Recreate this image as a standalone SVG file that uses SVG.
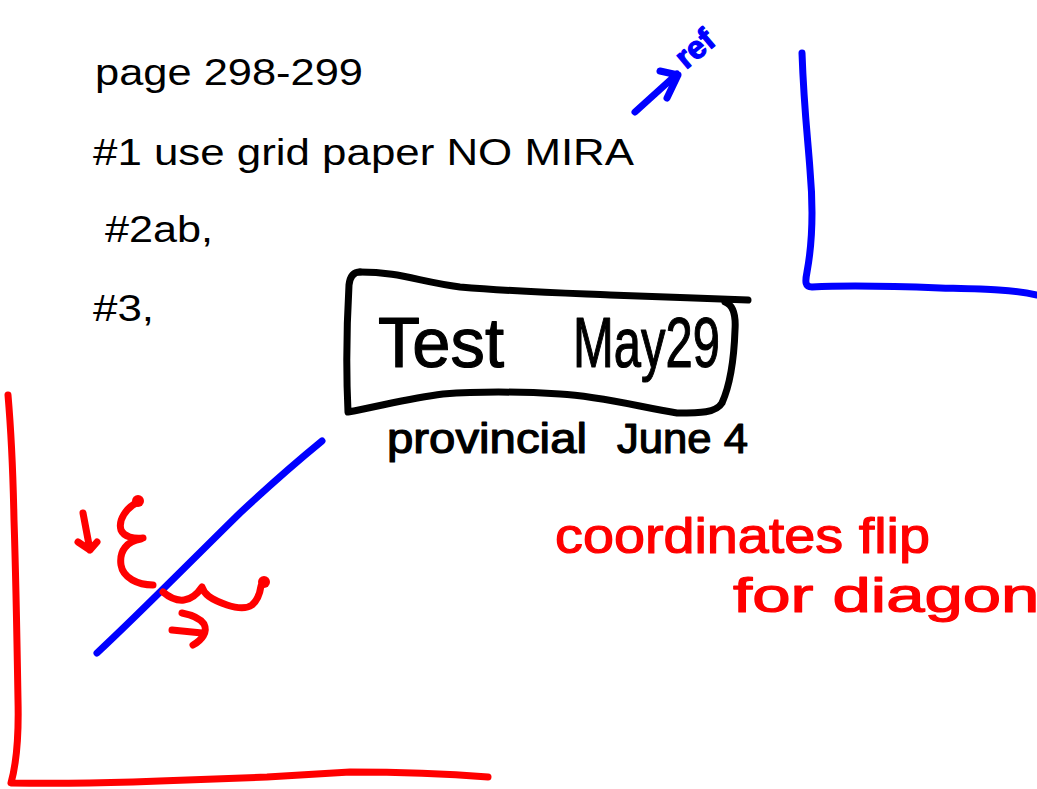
<svg xmlns="http://www.w3.org/2000/svg" width="1037" height="789" viewBox="0 0 1037 789">
  <style>
    .typed { font-family: "Liberation Sans", Arial, sans-serif; font-size: 36px; fill: #000; }
    .ink { fill: none; stroke-width: 7; stroke-linecap: round; stroke-linejoin: round; }
    .blue { stroke: #0000ff; }
    .red { stroke: #ff0000; }
    .black { stroke: #000; }
    .hand { font-family: "Liberation Sans", Arial, sans-serif; stroke-width: 1.2; stroke-linejoin: round; }
  </style>
  <rect width="1037" height="789" fill="#fff"/>

  <g id="typed-notes">
    <text class="typed" x="95" y="85" textLength="268" lengthAdjust="spacingAndGlyphs">page 298-299</text>
    <text class="typed" x="93" y="165" textLength="541" lengthAdjust="spacingAndGlyphs">#1 use grid paper NO MIRA</text>
    <text class="typed" x="105" y="242" textLength="108" lengthAdjust="spacingAndGlyphs">#2ab,</text>
    <text class="typed" x="93" y="321" textLength="61" lengthAdjust="spacingAndGlyphs">#3,</text>
  </g>

  <g id="ref-arrow">
    <path class="ink blue" d="M635,112 L677,74 M660,71 L678,75 L667,98"/>
    <text class="hand" x="686" y="70" font-size="32" font-weight="bold" fill="#0000ff" stroke="#0000ff" transform="rotate(-40 686 70)">ref</text>
  </g>

  <g id="blue-axes">
    <path class="ink blue" d="M802,53 C804,110 808,140 810,170 C814,215 812,245 807,272 C805,282 805,287 812,287 C850,285 890,286 940,288 C980,289 1010,289 1037,295"/>
  </g>

  <g id="test-box">
    <path class="ink black" d="M360,272 C400,272 420,282 460,287 C520,292 560,293 610,295 C660,297 700,298 748,300"/>
    <path class="ink black" d="M725,302 C733,305 736,315 735,330 C734,360 730,385 722,403 C716,413 700,413 677,413 C640,407 600,396 560,394 C510,391 470,392 443,394 C410,398 385,405 348,412 C346,370 347,320 349,285 C350,276 354,272 360,272"/>
    <text class="hand" font-size="70" fill="#000" stroke="#000" y="367">
      <tspan x="378" textLength="126" lengthAdjust="spacingAndGlyphs">Test</tspan>
      <tspan x="573" textLength="147" lengthAdjust="spacingAndGlyphs">May29</tspan>
    </text>
  </g>

  <g id="provincial-note">
    <text class="hand" font-size="42" fill="#000" stroke="#000" y="453">
      <tspan x="387" textLength="200" lengthAdjust="spacingAndGlyphs">provincial</tspan>
      <tspan x="617" textLength="131" lengthAdjust="spacingAndGlyphs">June 4</tspan>
    </text>
  </g>

  <g id="red-axes">
    <path class="ink red" d="M8,395 C11,430 13,470 14,520 C16,580 17,640 18,700 C19,740 16,765 11,783 C60,784 100,783 133,782 C180,780 230,778 267,777 C300,775 330,773 350,772 C400,772 450,774 488,777"/>
  </g>

  <g id="diagonal-line">
    <path class="ink blue" d="M97,653 C140,613 190,562 240,513 C270,485 300,459 322,441"/>
  </g>

  <g id="red-annotations">
    <path class="ink red" d="M83,513 L90,550 M78,542 L90,550 L97,542"/>
    <path class="ink red" d="M138,502 C126,508 118,520 121,530 C124,537 134,539 143,538 M141,539 C127,541 119,551 121,565 C123,578 138,585 153,585"/>
    <circle cx="138" cy="501" r="6" fill="#ff0000"/>
    <path class="ink red" d="M163,592 C170,598 176,601 184,600 C192,599 198,593 202,587 C204,594 210,599 227,605 C236,608 245,610 252,605 C258,600 260,593 261,586"/>
    <circle cx="264" cy="582" r="6" fill="#ff0000"/>
    <path class="ink red" d="M172,630 L202,633 M182,613 C192,615 200,618 204,624 C208,632 202,640 193,645"/>
  </g>

  <g id="red-note">
    <text class="hand" font-size="50" fill="#ff0000" stroke="#ff0000" x="555" y="553" textLength="375" lengthAdjust="spacingAndGlyphs">coordinates flip</text>
    <text class="hand" font-size="48" fill="#ff0000" stroke="#ff0000" x="733" y="612" textLength="360" lengthAdjust="spacingAndGlyphs">for diagonal</text>
  </g>
</svg>
